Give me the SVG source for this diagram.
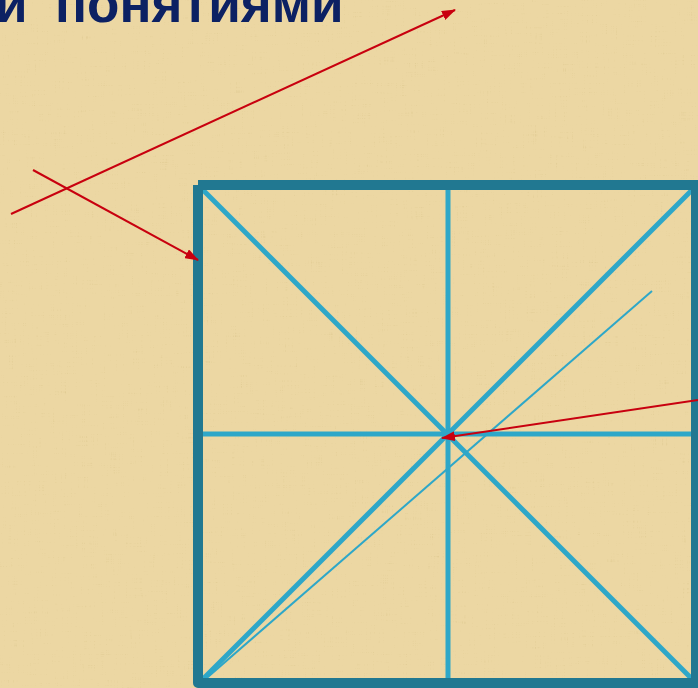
<svg xmlns="http://www.w3.org/2000/svg" width="698" height="688" viewBox="0 0 698 688">
<defs>
<style>
.border{fill:none;stroke:#217891;stroke-width:10;stroke-linejoin:round}
.inner{stroke:#2ea7c8;stroke-width:5;stroke-linecap:butt}
.thin{stroke:#2ea7c8;stroke-width:2}
.arrow{stroke:#c8000f;stroke-width:2;fill:none;marker-end:url(#ah)}
.title{font-family:"Liberation Sans",Arial,sans-serif;font-weight:bold;font-size:53px;fill:#0c2163}
</style>
<marker id="ah" viewBox="0 0 14 10" refX="13" refY="5" markerWidth="14" markerHeight="10" markerUnits="userSpaceOnUse" orient="auto">
<path d="M0,0 L14,5 L0,10 Z" fill="#c8000f"/>
</marker>
<filter id="tex" x="0" y="0" width="100%" height="100%">
<feTurbulence type="fractalNoise" baseFrequency="0.9 0.04" numOctaves="2" seed="3" result="n1"/>
<feTurbulence type="fractalNoise" baseFrequency="0.04 0.9" numOctaves="2" seed="7" result="n2"/>
<feBlend in="n1" in2="n2" mode="multiply" result="n"/>
<feColorMatrix in="n" type="matrix" values="0 0 0 0 0.55  0 0 0 0 0.42  0 0 0 0 0.15  0 0 0 -1.2 0.75"/>
</filter>
</defs>
<g id="background">
<rect width="698" height="688" fill="#ecd7a3"/>
<rect width="698" height="688" filter="url(#tex)" opacity="0.6"/>
</g>
<g id="title">
<text class="title" x="-5" y="22">и</text>
<text class="title" x="55" y="22">понятиями</text>
</g>
<g id="square">
<line class="inner" x1="448" y1="188" x2="448" y2="680"/>
<line class="inner" x1="201" y1="434" x2="694" y2="434"/>
<line class="inner" x1="201" y1="188" x2="694" y2="681"/>
<line class="inner" x1="201" y1="681" x2="694" y2="188"/>
<line class="thin" x1="201" y1="683" x2="652" y2="291"/>
<path class="border" d="M198,185 H703 M198,185 V683 H703 M696,185 V683"/>
</g>
<g id="connectors">
<line class="arrow" x1="11" y1="214" x2="455" y2="10"/>
<line class="arrow" x1="33" y1="170" x2="198" y2="260"/>
<line class="arrow" x1="698" y1="400" x2="442" y2="438"/>
</g>
</svg>
